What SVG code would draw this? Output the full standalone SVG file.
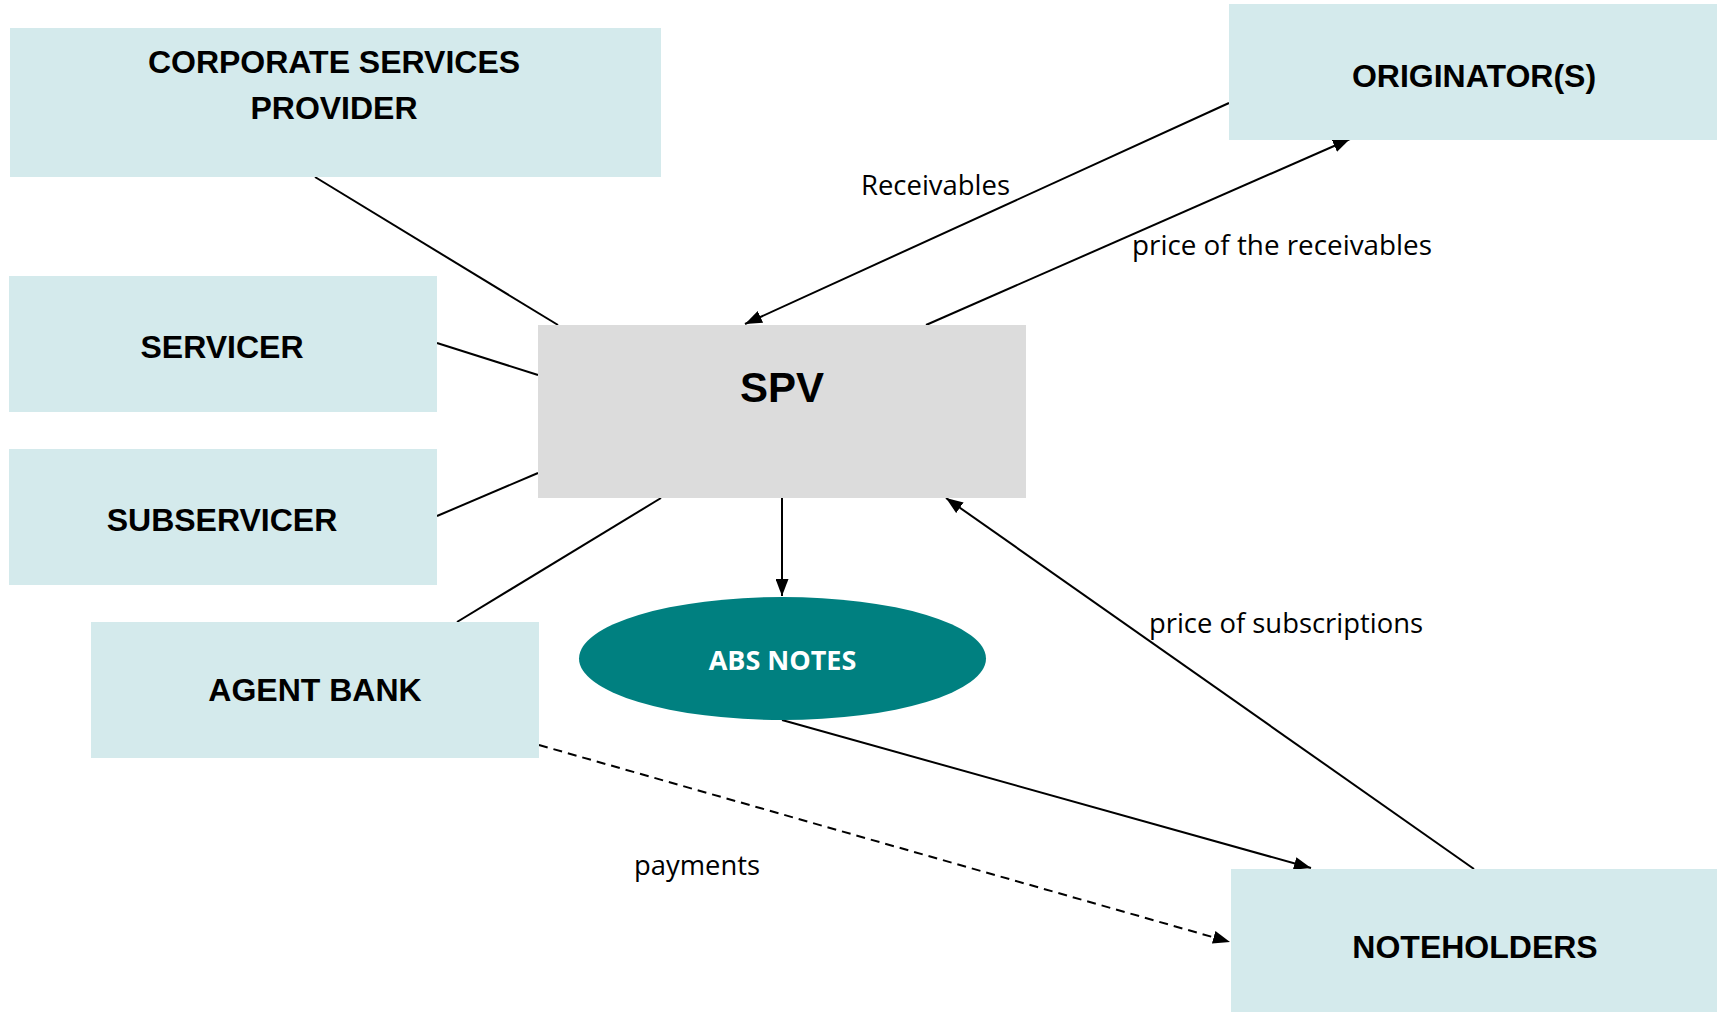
<svg xmlns="http://www.w3.org/2000/svg" width="1727" height="1012" viewBox="0 0 1727 1012">
  <style>
    .box { fill: #D4EAEC; }
    .spv { fill: #DCDCDC; }
    .lbl { font-family: "Liberation Sans", Arial, sans-serif; font-weight: bold; font-size: 32px; fill: #000; text-anchor: middle; }
    .edge { stroke: #000; stroke-width: 2; fill: none; }
    .dash { stroke-dasharray: 9 6; }
    .note { font-family: "Open Sans", "Noto Sans", sans-serif; font-size: 27px; fill: #000; }
  </style>
  <defs>
    <marker id="arrow" markerUnits="userSpaceOnUse" markerWidth="18" markerHeight="13" refX="17" refY="6.5" orient="auto">
      <path d="M0,0 L17,6.5 L0,13 z" fill="#000"/>
    </marker>
  </defs>
  <rect width="1727" height="1012" fill="#fff"/>

  <!-- connectors -->
  <g id="connectors">
    <line class="edge" x1="315" y1="177" x2="558" y2="325"/>
    <line class="edge" x1="437" y1="343" x2="538" y2="375"/>
    <line class="edge" x1="437" y1="516" x2="538" y2="473"/>
    <line class="edge" x1="457" y1="622" x2="661" y2="498"/>
    <line class="edge" x1="1229" y1="103" x2="745" y2="324" marker-end="url(#arrow)"/>
    <line class="edge" x1="926" y1="325" x2="1350" y2="139" marker-end="url(#arrow)"/>
    <line class="edge" x1="782" y1="498" x2="782" y2="596" marker-end="url(#arrow)"/>
    <line class="edge" x1="1474" y1="869" x2="946" y2="498" marker-end="url(#arrow)"/>
    <line class="edge" x1="782" y1="720" x2="1311" y2="868" marker-end="url(#arrow)"/>
    <line class="edge dash" x1="539" y1="745" x2="1230" y2="942" marker-end="url(#arrow)"/>
    <text class="note" x="861" y="195" textLength="149" lengthAdjust="spacingAndGlyphs">Receivables</text>
    <text class="note" x="1132" y="255" textLength="300" lengthAdjust="spacingAndGlyphs">price of the receivables</text>
    <text class="note" x="1149" y="633" textLength="274" lengthAdjust="spacingAndGlyphs">price of subscriptions</text>
    <text class="note" x="634" y="875" textLength="126" lengthAdjust="spacingAndGlyphs">payments</text>
  </g>

  <g id="csp">
    <rect class="box" x="10" y="28" width="651" height="149"/>
    <text class="lbl" x="334" y="73">CORPORATE SERVICES</text>
    <text class="lbl" x="334" y="119">PROVIDER</text>
  </g>

  <g id="originators">
    <rect class="box" x="1229" y="4" width="488" height="136"/>
    <text class="lbl" x="1474" y="87">ORIGINATOR(S)</text>
  </g>

  <g id="servicer">
    <rect class="box" x="9" y="276" width="428" height="136"/>
    <text class="lbl" x="222" y="358">SERVICER</text>
  </g>

  <g id="subservicer">
    <rect class="box" x="9" y="449" width="428" height="136"/>
    <text class="lbl" x="222" y="531">SUBSERVICER</text>
  </g>

  <g id="agent-bank">
    <rect class="box" x="91" y="622" width="448" height="136"/>
    <text class="lbl" x="315" y="701">AGENT BANK</text>
  </g>

  <g id="spv">
    <rect class="spv" x="538" y="325" width="488" height="173"/>
    <text class="lbl" x="782" y="402" style="font-size:42px">SPV</text>
  </g>

  <g id="abs-notes">
    <ellipse cx="782.5" cy="658.5" rx="203.5" ry="61.5" fill="#008080"/>
    <text x="782.5" y="670" text-anchor="middle" font-family="'Open Sans', 'Noto Sans', sans-serif" font-weight="bold" font-size="27" fill="#fff">ABS NOTES</text>
  </g>

  <g id="noteholders">
    <rect class="box" x="1231" y="869" width="486" height="143"/>
    <text class="lbl" x="1475" y="958">NOTEHOLDERS</text>
  </g>
</svg>
